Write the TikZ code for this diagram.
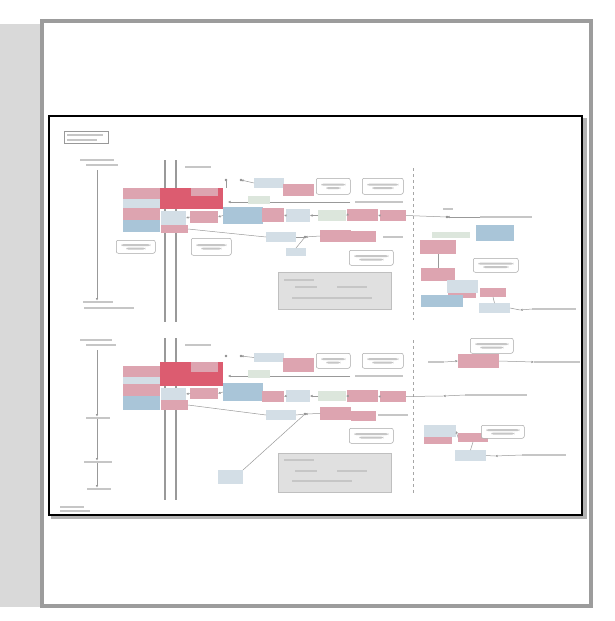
\documentclass[tikz,border=0pt]{standalone}
\usetikzlibrary{arrows.meta}
\definecolor{pk}{HTML}{DDA4B0}
\definecolor{rd}{HTML}{DC5C70}
\definecolor{bl}{HTML}{A9C5D8}
\definecolor{lb}{HTML}{D3DEE6}
\definecolor{lg}{HTML}{DCE6DC}
\definecolor{fr}{HTML}{9C9C9C}
\definecolor{tx}{HTML}{C6C6C6}
\tikzset{
 box/.style={draw=none,inner sep=0pt,outer sep=0pt},
 rbox/.style={draw=black!35,rounded corners=2pt,fill=white,inner sep=0pt,line width=0.5pt,
   path picture={\fill[tx] ([xshift=5pt,yshift=2.6pt]path picture bounding box.west) rectangle ([xshift=-5pt,yshift=0.6pt]path picture bounding box.east);
     \fill[tx] ([xshift=10pt,yshift=-0.8pt]path picture bounding box.west) rectangle ([xshift=-10pt,yshift=-2.8pt]path picture bounding box.east);}},
 gbox/.style={draw=black!25,fill=black!12,inner sep=0pt,line width=0.6pt},
 tbar/.style={fill=tx,inner sep=0pt,draw=none},
 conn/.style={draw=black!40,line width=0.5pt},
 arr/.style={conn,-{Latex[length=2.5pt,width=2.5pt]}},
 mem/.style={draw=black!40,line width=1.8pt},
 dashline/.style={draw=black!35,line width=0.8pt,dashed}
}
\newcommand\bx[6]{\node[#1,minimum width=#5pt,minimum height=#6pt,anchor=north west] (#2) at (#3,#4) {};}
\newcommand\tb[4]{\node[tbar,minimum width=#3pt,minimum height=2.4pt,anchor=west] (#1) at (#2,#4) {};}
\begin{document}
\begin{tikzpicture}[x=1pt,y=-1pt]
\useasboundingbox (0,0) rectangle (615,621);
\fill[white] (0,0) rectangle (615,621);
% left strip and frame
\fill[black!15] (0,24) rectangle (42,607);
\draw[fr,line width=4pt] (42,21) rectangle (591,606);
\fill[black!30] (583,118) rectangle (587,519);
\fill[black!30] (51,516) rectangle (587,519);
\draw[black,line width=1.6pt] (49,116) rectangle (582,515);
% ---------- TOP PANEL ----------
\node[draw=black!40,inner sep=0pt,minimum width=44pt,minimum height=12pt,anchor=north west,line width=0.4pt] (ref) at (64,131) {};
\tb{reft1}{67}{36}{135}\tb{reft2}{67}{30}{140}
\tb{t1a}{80}{34}{160}\tb{t1b}{86}{32}{165}
\coordinate (t1s) at (97,170);
\tb{t1c}{83}{30}{302}\tb{t1d}{84}{50}{308}
\draw[arr] (t1s) -- (t1c.north -| t1s);
% membranes
\draw[mem] (165,160) -- (165,322);
\draw[mem] (176,160) -- (176,322);
\draw[dashline] (413,168) -- (413,320);
\tb{mt}{185}{26}{167}
% receptor stack
\bx{box,fill=pk}{r1}{123}{188}{37}{11}
\bx{box,fill=lb}{r2}{123}{199}{37}{9}
\bx{box,fill=pk}{r3}{123}{208}{37}{12}
\bx{box,fill=bl}{r4}{123}{220}{37}{12}
\bx{box,fill=rd}{red}{160}{188}{63}{21}
\bx{box,fill=pk}{redp}{191}{188}{27}{8}
\bx{box,fill=lb}{m1}{161}{211}{25}{14}
\bx{box,fill=pk}{m2}{161}{225}{27}{8}
\bx{box,fill=pk}{p1}{190}{211}{28}{12}
\bx{box,fill=bl}{b1}{223}{207}{40}{17}
\bx{box,fill=pk}{p2}{262}{208}{22}{14}
\bx{rbox}{tr1}{116}{240}{39}{13}
\bx{rbox}{tr2}{191}{238}{40}{17}
% upper row
\bx{box,fill=lb}{u1}{254}{178}{30}{10}
\bx{box,fill=pk}{u2}{283}{184}{31}{12}
\bx{rbox}{u3}{316}{178}{34}{16}
\bx{rbox}{u4}{362}{178}{41}{16}
\coordinate (g1) at (226,180); \coordinate (g2) at (241,180);
\fill[black!45] (g1) circle (1.4pt); \fill[black!45] (g2) circle (1.4pt);
\draw[arr] (u1.west) -- (g2);
\draw[conn] (g1) -- (red.north -| g1);
% second row
\coordinate (a1) at (228,202); \coordinate (a1e) at (350,202);
\tb{ta1}{355}{48}{202}
\draw[arr] (a1e) -- (a1);
\bx{box,fill=lg}{v0}{248}{196}{22}{8}
% middle row
\bx{box,fill=lb}{v1}{286}{209}{24}{13}
\bx{box,fill=lg}{v2}{318}{210}{28}{11}
\bx{box,fill=pk}{v3}{347}{209}{31}{12}
\bx{box,fill=pk}{v4}{380}{210}{26}{11}
\draw[arr] (v1.west) -- (p2.east);
\draw[arr] (v2.west) -- (v1.east);
\draw[arr] (v3.west) -- (v2.east);
\draw[arr] (v4.west) -- (v3.east);
\draw[arr] (b1.west) -- (p1.east);
\draw[arr] (p1.west) -- (m1.east);
% third row
\bx{box,fill=lb}{w1}{266}{232}{30}{10}
\bx{box,fill=pk}{w2}{320}{230}{31}{12}
\bx{box,fill=pk}{w3}{351}{231}{25}{11}
\tb{tw}{383}{20}{237}
\coordinate (wc) at (305,237);
\fill[black!45] (wc) circle (1.4pt);
\draw[arr] (w2.west) -- (wc);
\draw[conn] (wc) -- (w1.east);
\draw[conn] (m2.east) -- (w1.west);
\bx{box,fill=lb}{w4}{286}{248}{20}{8}
\draw[conn] (wc) -- (w4.north);
\bx{rbox}{w5}{349}{250}{44}{15}
% gray legend box
\bx{gbox}{lg1}{278}{272}{113}{37}
\tb{lgt1}{284}{30}{280}\tb{lgt2}{295}{22}{287}\tb{lgt3}{337}{30}{287}\tb{lgt4}{292}{80}{298}
% right side
\coordinate (rc) at (447,217);
\fill[black!45] (rc) circle (1.4pt);
\tb{rct}{443}{10}{209}
\draw[conn] (v4.east) -- (rc);
\tb{rt1}{480}{52}{217}
\draw[arr] (rt1.west) -- (rc);
\bx{box,fill=bl}{x1}{476}{225}{38}{16}
\bx{box,fill=lg}{x0}{432}{232}{38}{6}
\bx{box,fill=pk}{x2}{420}{240}{36}{14}
\bx{rbox}{x3}{473}{258}{45}{14}
\bx{box,fill=pk}{x4}{421}{268}{34}{13}
\bx{box,fill=lb}{x5}{447}{280}{31}{13}
\bx{box,fill=pk}{x5b}{448}{293}{28}{5}
\bx{box,fill=pk}{x6}{480}{288}{26}{9}
\bx{box,fill=bl}{x7}{421}{295}{42}{12}
\bx{box,fill=lb}{x8}{479}{303}{31}{10}
\draw[conn] (x2.south) -- (x4.north);
\draw[conn] (x6.south) -- (x8.north);
\coordinate (xc) at (520,310);
\tb{xt}{532}{44}{309}
\draw[conn] (x8.east) -- (xc);
\draw[arr] (xt.west) -- (xc);
% ---------- BOTTOM PANEL ----------
\tb{s1a}{80}{32}{340}\tb{s1b}{86}{30}{345}
\tb{s1c}{86}{24}{418}\tb{s1d}{84}{28}{462}\tb{s1e}{87}{24}{489}
\coordinate (s1s) at (97,350);
\draw[arr] (s1s) -- (s1c.north -| s1s);
\draw[arr] (s1c.south -| s1s) -- (s1d.north -| s1s);
\draw[arr] (s1d.south -| s1s) -- (s1e.north -| s1s);
\tb{s0}{60}{24}{507}\tb{s0b}{60}{30}{511}
\draw[mem] (165,338) -- (165,500);
\draw[mem] (176,338) -- (176,500);
\draw[dashline] (413,340) -- (413,495);
\tb{mtb}{185}{26}{345}
\bx{box,fill=pk}{q1}{123}{366}{37}{11}
\bx{box,fill=lb}{q2}{123}{377}{37}{7}
\bx{box,fill=pk}{q3}{123}{384}{37}{12}
\bx{box,fill=bl}{q4}{123}{396}{37}{14}
\bx{box,fill=rd}{qred}{160}{362}{63}{24}
\bx{box,fill=pk}{qredp}{191}{362}{27}{10}
\bx{box,fill=lb}{n1}{161}{388}{25}{12}
\bx{box,fill=pk}{n2}{161}{400}{27}{10}
\bx{box,fill=pk}{o1}{190}{388}{28}{11}
\bx{box,fill=bl}{ob}{223}{383}{40}{18}
\bx{box,fill=pk}{o2}{262}{391}{22}{11}
\bx{box,fill=lb}{e1}{254}{353}{30}{9}
\bx{box,fill=pk}{e2}{283}{358}{31}{14}
\bx{rbox}{e3}{316}{353}{34}{15}
\bx{rbox}{e4}{362}{353}{41}{15}
\coordinate (h1) at (226,356); \coordinate (h2) at (241,356);
\fill[black!45] (h1) circle (1.4pt); \fill[black!45] (h2) circle (1.4pt);
\draw[arr] (e1.west) -- (h2);
\coordinate (f1) at (228,376); \coordinate (f1e) at (350,376);
\tb{tf1}{355}{48}{376}
\draw[arr] (f1e) -- (f1);
\bx{box,fill=lg}{f0}{248}{370}{22}{8}
\bx{box,fill=lb}{k1}{286}{390}{24}{12}
\bx{box,fill=lg}{k2}{318}{391}{28}{10}
\bx{box,fill=pk}{k3}{347}{390}{31}{12}
\bx{box,fill=pk}{k4}{380}{391}{26}{11}
\draw[arr] (k1.west) -- (o2.east);
\draw[arr] (k2.west) -- (k1.east);
\draw[arr] (k3.west) -- (k2.east);
\draw[arr] (k4.west) -- (k3.east);
\draw[arr] (ob.west) -- (o1.east);
\draw[arr] (o1.west) -- (n1.east);
\bx{box,fill=lb}{j1}{266}{410}{30}{10}
\bx{box,fill=pk}{j2}{320}{407}{31}{13}
\bx{box,fill=pk}{j3}{351}{411}{25}{10}
\tb{tj}{378}{30}{415}
\coordinate (jc) at (305,414);
\fill[black!45] (jc) circle (1.4pt);
\draw[arr] (j2.west) -- (jc);
\draw[conn] (jc) -- (j1.east);
\draw[conn] (n2.east) -- (j1.west);
\bx{box,fill=lb}{j4}{218}{470}{25}{14}
\draw[conn] (jc) -- (j4.north east);
\bx{rbox}{j5}{349}{428}{44}{15}
\bx{gbox}{lg2}{278}{453}{113}{39}
\tb{lgu1}{284}{30}{460}\tb{lgu2}{295}{22}{471}\tb{lgu3}{337}{30}{471}\tb{lgu4}{292}{60}{481}
% right bottom
\bx{rbox}{y0}{470}{338}{43}{15}
\bx{box,fill=pk}{y1}{458}{354}{41}{14}
\tb{yt1}{428}{16}{362}
\tb{yt2}{534}{46}{362}
\draw[arr] (yt1.east) -- (y1.west);
\draw[arr] (y1.east) -- (yt2.west);
\coordinate (zc) at (443,396);
\tb{zt}{465}{62}{395}
\draw[conn] (k4.east) -- (zc);
\draw[arr] (zt.west) -- (zc);
\bx{box,fill=lb}{z1}{424}{425}{32}{12}
\bx{box,fill=pk}{z1b}{424}{437}{28}{7}
\bx{box,fill=pk}{z2}{458}{433}{30}{9}
\bx{rbox}{z3}{481}{425}{43}{13}
\bx{box,fill=lb}{z4}{455}{450}{31}{11}
\draw[conn] (z2.south) -- (z4.north);
\draw[arr] (z2.west) -- (z1.east);
\coordinate (zz) at (495,456);
\tb{zzt}{522}{44}{455}
\draw[conn] (z4.east) -- (zz);
\draw[arr] (zzt.west) -- (zz);
\end{tikzpicture}
\end{document}
